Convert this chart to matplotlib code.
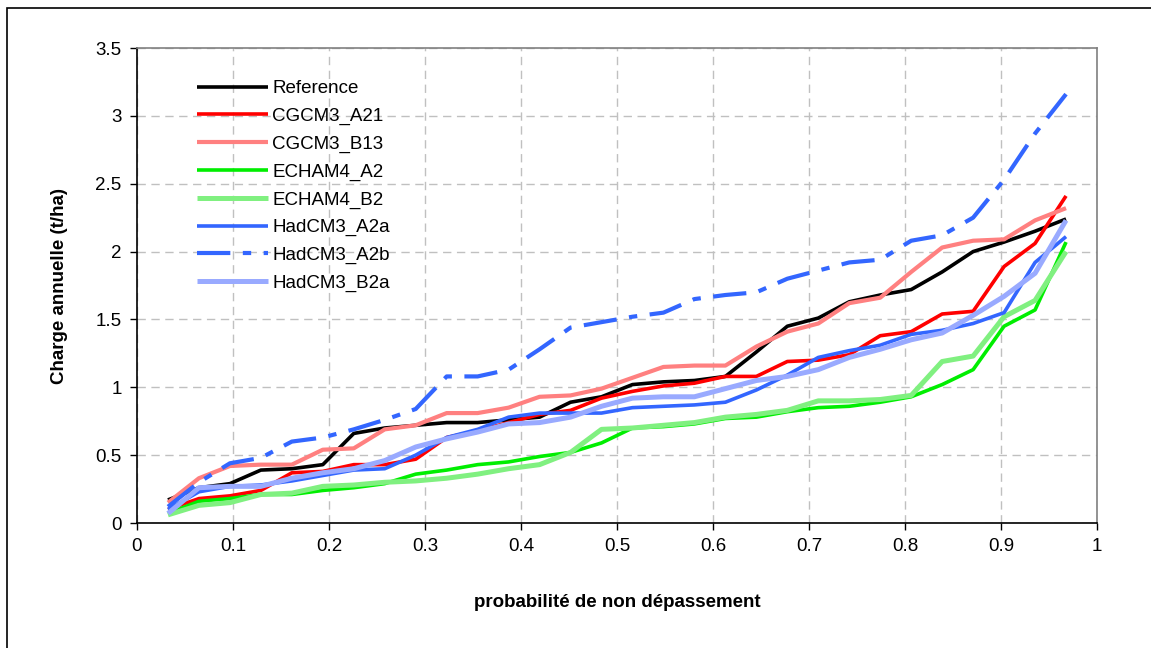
import numpy as np
import matplotlib.pyplot as plt
from matplotlib.patches import Rectangle

plt.rcParams['font.family'] = ['Liberation Sans', 'DejaVu Sans']

# probabilités empiriques i/(n+1), n = 30 années
n = 30
prob = np.arange(1, n + 1) / (n + 1)

reference = [0.17, 0.26, 0.29, 0.39, 0.40, 0.43, 0.66, 0.70, 0.72, 0.74,
             0.74, 0.76, 0.78, 0.89, 0.93, 1.02, 1.04, 1.05, 1.08, 1.26,
             1.45, 1.51, 1.63, 1.68, 1.72, 1.85, 2.00, 2.07, 2.15, 2.24]
cgcm3_a21 = [0.10, 0.18, 0.20, 0.24, 0.37, 0.38, 0.43, 0.43, 0.47, 0.63,
             0.68, 0.74, 0.80, 0.83, 0.92, 0.97, 1.01, 1.03, 1.08, 1.08,
             1.19, 1.20, 1.24, 1.38, 1.41, 1.54, 1.56, 1.89, 2.06, 2.41]
cgcm3_b13 = [0.15, 0.33, 0.42, 0.43, 0.43, 0.54, 0.55, 0.69, 0.72, 0.81,
             0.81, 0.85, 0.93, 0.94, 0.99, 1.07, 1.15, 1.16, 1.16, 1.30,
             1.41, 1.47, 1.62, 1.66, 1.85, 2.03, 2.08, 2.09, 2.23, 2.32]
echam4_a2 = [0.07, 0.16, 0.18, 0.21, 0.21, 0.24, 0.26, 0.29, 0.36, 0.39,
             0.43, 0.45, 0.49, 0.52, 0.59, 0.70, 0.71, 0.73, 0.77, 0.78,
             0.82, 0.85, 0.86, 0.89, 0.93, 1.02, 1.13, 1.45, 1.57, 2.07]
echam4_b2 = [0.06, 0.13, 0.15, 0.21, 0.22, 0.27, 0.28, 0.30, 0.31, 0.33,
             0.36, 0.40, 0.43, 0.52, 0.69, 0.70, 0.72, 0.74, 0.78, 0.80,
             0.83, 0.90, 0.90, 0.91, 0.94, 1.19, 1.23, 1.52, 1.64, 2.00]
hadcm3_a2a = [0.10, 0.23, 0.27, 0.28, 0.31, 0.35, 0.39, 0.40, 0.50, 0.63,
              0.69, 0.78, 0.81, 0.81, 0.81, 0.85, 0.86, 0.87, 0.89, 0.98,
              1.09, 1.22, 1.27, 1.31, 1.39, 1.42, 1.47, 1.55, 1.92, 2.11]
hadcm3_a2b = [0.12, 0.30, 0.44, 0.48, 0.60, 0.63, 0.69, 0.76, 0.84, 1.08,
              1.08, 1.13, 1.28, 1.44, 1.48, 1.52, 1.55, 1.65, 1.68, 1.70,
              1.80, 1.86, 1.92, 1.94, 2.08, 2.12, 2.25, 2.53, 2.87, 3.16]
hadcm3_b2a = [0.07, 0.26, 0.27, 0.27, 0.33, 0.37, 0.40, 0.46, 0.56, 0.62,
              0.67, 0.73, 0.74, 0.78, 0.86, 0.92, 0.93, 0.93, 0.99, 1.05,
              1.08, 1.13, 1.22, 1.28, 1.35, 1.40, 1.53, 1.67, 1.84, 2.23]

series = [
    ('Reference', reference, '#000000', 2.6, '-'),
    ('CGCM3_A21', cgcm3_a21, '#FF0000', 2.6, '-'),
    ('CGCM3_B13', cgcm3_b13, '#FF8080', 3.0, '-'),
    ('ECHAM4_A2', echam4_a2, '#00EE00', 2.6, '-'),
    ('ECHAM4_B2', echam4_b2, '#80F080', 3.6, '-'),
    ('HadCM3_A2a', hadcm3_a2a, '#3366FF', 2.6, '-'),
    ('HadCM3_A2b', hadcm3_a2b, '#3366FF', 3.0, (0, (8, 3, 2, 3))),
    ('HadCM3_B2a', hadcm3_b2a, '#99AAFF', 3.6, '-'),
]

fig = plt.figure(figsize=(11.51, 6.48), dpi=100)
ax = fig.add_axes([137 / 1151, 1 - 523 / 648, 960 / 1151, 475 / 648])

# cadre du graphique
fig.patches.append(Rectangle((7 / 1151, -0.1), 1.2, 1 - 8 / 648 + 0.1,
                             transform=fig.transFigure, fill=False,
                             edgecolor='black', linewidth=1.2, zorder=-1))

for label, vals, color, lw, ls in series:
    ax.plot(prob, vals, color=color, linewidth=lw, linestyle=ls, label=label,
            solid_capstyle='butt', dash_capstyle='butt')

ax.set_xlim(0, 1)
ax.set_ylim(0, 3.5)
ax.set_xticks(np.arange(0, 1.01, 0.1))
ax.set_xticklabels(['0', '0.1', '0.2', '0.3', '0.4', '0.5', '0.6', '0.7',
                    '0.8', '0.9', '1'])
ax.set_yticks(np.arange(0, 3.51, 0.5))
ax.set_yticklabels(['0', '0.5', '1', '1.5', '2', '2.5', '3', '3.5'])
ax.tick_params(direction='out', length=5, width=1, labelsize=13.5,
               pad=6)
ax.grid(True, color='#C0C0C0', linestyle=(0, (6, 4)), linewidth=1)
ax.set_axisbelow(True)

for side in ['top', 'right']:
    ax.spines[side].set_color('#808080')
for side in ['left', 'bottom']:
    ax.spines[side].set_color('#000000')
for sp in ax.spines.values():
    sp.set_linewidth(1.2)

ax.set_xlabel('probabilité de non dépassement', fontsize=13.5,
              fontweight='bold', labelpad=28)
ax.set_ylabel('Charge annuelle (t/ha)', fontsize=13.5, fontweight='bold',
              labelpad=20)

ax.legend(loc='upper left', bbox_to_anchor=(0.055, 0.948), frameon=False,
          fontsize=13.5, handlelength=3.75, handletextpad=0.25,
          labelspacing=0.56, borderaxespad=0)

fig.savefig('out.png', dpi=100)
